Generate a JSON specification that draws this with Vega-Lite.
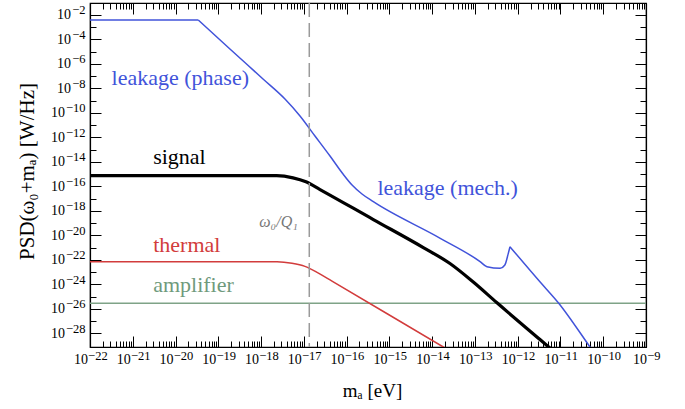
{
  "$schema": "https://vega.github.io/schema/vega-lite/v6.json",
  "width": 556,
  "height": 344,
  "autosize": {"type": "none"},
  "padding": {"left": 90, "top": 3, "right": 39, "bottom": 62},
  "background": "white",
  "config": {
    "view": {"stroke": "black", "strokeWidth": 1.2},
    "font": "Liberation Serif",
    "text": {"font": "Liberation Serif"},
    "axis": {"grid": false, "domainColor": "black", "domainWidth": 1.2, "tickColor": "black", "tickWidth": 1, "labelColor": "black", "labelFont": "Liberation Serif", "labelFontSize": 14, "titleColor": "black", "titleFont": "Liberation Serif", "titleFontWeight": "normal", "titleFontSize": 20, "labelOverlap": false, "labelFlush": false}
  },
  "datasets": {
    "curves": [
      {"series": "amplifier", "segment": 0, "x": 1e-22, "y": 2.82e-26},
      {"series": "amplifier", "segment": 0, "x": 1e-9, "y": 2.82e-26},
      {"series": "thermal", "segment": 0, "x": 1e-22, "y": 7.0e-23},
      {"series": "thermal", "segment": 0, "x": 2.36e-18, "y": 7.0e-23},
      {"series": "thermal", "segment": 0, "x": 5.28e-18, "y": 5.27e-23},
      {"series": "thermal", "segment": 0, "x": 1.06e-17, "y": 2.94e-23},
      {"series": "thermal", "segment": 0, "x": 2.14e-17, "y": 8.67e-24},
      {"series": "thermal", "segment": 0, "x": 4.55e-17, "y": 1.85e-24},
      {"series": "thermal", "segment": 0, "x": 1.82e-14, "y": 7.59e-30},
      {"series": "thermal", "segment": 0, "x": 3.16e-14, "y": 2.45e-30},
      {"series": "leakage", "segment": 0, "x": 1e-22, "y": 3.9e-3},
      {"series": "leakage", "segment": 0, "x": 3.4e-20, "y": 3.9e-3},
      {"series": "leakage", "segment": 1, "x": 3.4e-20, "y": 3.9e-3},
      {"series": "leakage", "segment": 1, "x": 1.87e-19, "y": 1.67e-5},
      {"series": "leakage", "segment": 1, "x": 1.11e-18, "y": 5.9e-8},
      {"series": "leakage", "segment": 1, "x": 3.62e-18, "y": 1.37e-9},
      {"series": "leakage", "segment": 1, "x": 8.13e-18, "y": 5.6e-11},
      {"series": "leakage", "segment": 1, "x": 1.82e-17, "y": 1.3e-12},
      {"series": "leakage", "segment": 1, "x": 4.09e-17, "y": 3.0e-14},
      {"series": "leakage", "segment": 1, "x": 8.24e-17, "y": 1.02e-15},
      {"series": "leakage", "segment": 1, "x": 1.34e-16, "y": 1.29e-16},
      {"series": "leakage", "segment": 1, "x": 2.29e-16, "y": 2.38e-17},
      {"series": "leakage", "segment": 1, "x": 4.21e-16, "y": 5.6e-18},
      {"series": "leakage", "segment": 1, "x": 1.51e-14, "y": 6.0e-21},
      {"series": "leakage", "segment": 1, "x": 1.32e-13, "y": 7.2e-23},
      {"series": "leakage", "segment": 1, "x": 1.91e-13, "y": 2.75e-23},
      {"series": "leakage", "segment": 1, "x": 3.89e-13, "y": 2.04e-23},
      {"series": "leakage", "segment": 1, "x": 5.01e-13, "y": 3.8e-23},
      {"series": "leakage", "segment": 1, "x": 6.03e-13, "y": 3.39e-22},
      {"series": "leakage", "segment": 1, "x": 6.61e-13, "y": 1.17e-21},
      {"series": "leakage", "segment": 2, "x": 6.61e-13, "y": 1.17e-21},
      {"series": "leakage", "segment": 2, "x": 3.31e-12, "y": 1.62e-24},
      {"series": "leakage", "segment": 2, "x": 8.91e-12, "y": 3.16e-26},
      {"series": "leakage", "segment": 2, "x": 4.9e-11, "y": 7.6e-30},
      {"series": "leakage", "segment": 2, "x": 7.9e-11, "y": 7e-31},
      {"series": "signal", "segment": 0, "x": 1e-22, "y": 7.43e-16},
      {"series": "signal", "segment": 0, "x": 2.32e-18, "y": 7.43e-16},
      {"series": "signal", "segment": 0, "x": 5.57e-18, "y": 5.0e-16},
      {"series": "signal", "segment": 0, "x": 1.12e-17, "y": 2.36e-16},
      {"series": "signal", "segment": 0, "x": 2.39e-17, "y": 5.53e-17},
      {"series": "signal", "segment": 0, "x": 4.21e-16, "y": 1.96e-19},
      {"series": "signal", "segment": 0, "x": 6.21e-15, "y": 1.01e-21},
      {"series": "signal", "segment": 0, "x": 2.61e-14, "y": 4.99e-23},
      {"series": "signal", "segment": 0, "x": 9.16e-14, "y": 1.53e-24},
      {"series": "signal", "segment": 0, "x": 3.23e-13, "y": 3.24e-26},
      {"series": "signal", "segment": 0, "x": 3.32e-12, "y": 3.08e-29},
      {"series": "signal", "segment": 0, "x": 9.75e-12, "y": 1.24e-30}
    ],
    "labels": [
      {"series": "leakage", "text": "leakage (phase)", "x": 3.2e-22, "y": 1.9e-8},
      {"series": "signal", "text": "signal", "x": 3.0e-21, "y": 6.8e-15},
      {"series": "leakage", "text": "leakage (mech.)", "x": 5.25e-16, "y": 1.95e-17},
      {"series": "thermal", "text": "thermal", "x": 3.0e-21, "y": 4.6e-22},
      {"series": "amplifier", "text": "amplifier", "x": 3.0e-21, "y": 2.3e-25}
    ],
    "marker": [{"x": 1.34e-17, "text": "ω₀/Q₁", "tx": 7.2e-18, "y": 5.0e-20}]
  },
  "layer": [
    {
      "data": {"name": "curves"},
      "transform": [{"filter": "datum.series == 'amplifier'"}],
      "mark": {"type": "line", "color": "#7fa387", "strokeWidth": 1.6, "clip": true},
      "encoding": {
        "x": {"field": "x", "type": "quantitative", "scale": {"type": "log", "domain": [1e-22, 1e-9], "nice": false},
          "axis": {"orient": "bottom", "values": [1e-22, 1e-21, 1e-20, 1e-19, 1e-18, 1e-17, 1e-16, 1e-15, 1e-14, 1e-13, 1e-12, 1e-11, 1e-10, 1e-9], "ticks": false, "domain": false, "labelPadding": 5, "labelExpr": "'10'", "labelAlign": "center",
            "labelOffset": {"condition": {"test": "datum.value > 5e-10", "value": -6.5}, "value": -9.5},
            "title": "mₐ  [eV]", "titleFontSize": 19, "titleX": 282, "titleY": 43, "titleBaseline": "middle", "titleAlign": "center"}},
        "y": {"field": "y", "type": "quantitative", "scale": {"type": "log", "domain": [7.6e-30, 0.095], "nice": false},
          "axis": {"orient": "left", "values": [1e-28, 1e-26, 1e-24, 1e-22, 1e-20, 1e-18, 1e-16, 1e-14, 1e-12, 1e-10, 1e-8, 1e-6, 1e-4, 1e-2], "ticks": false, "domain": false, "labelExpr": "'10'", "labelAlign": "right", "labelBaseline": "middle",
            "labelPadding": {"condition": {"test": "datum.value > 5e-10", "value": 19.5}, "value": 25.5},
            "title": "PSD(ω₀+mₐ)  [W/Hz]", "titleFontSize": 21, "titleX": -63, "titleY": 168, "titleBaseline": "middle", "titleAlign": "center", "titleAngle": -90}}
      }
    },
    {
      "data": {"name": "curves"},
      "transform": [{"filter": "datum.series == 'thermal'"}],
      "mark": {"type": "line", "color": "#d23c3c", "strokeWidth": 1.5, "clip": true, "interpolate": "monotone"},
      "encoding": {
        "x": {"field": "x", "type": "quantitative", "scale": {"type": "log", "domain": [1e-22, 1e-9], "nice": false},
          "axis": {"orient": "bottom", "labels": false, "title": null, "tickSize": -6, "domain": false,
            "values": [2e-22,3e-22,4e-22,5e-22,6e-22,7e-22,8e-22,9e-22,2e-21,3e-21,4e-21,5e-21,6e-21,7e-21,8e-21,9e-21,2e-20,3e-20,4e-20,5e-20,6e-20,7e-20,8e-20,9e-20,2e-19,3e-19,4e-19,5e-19,6e-19,7e-19,8e-19,9e-19,2e-18,3e-18,4e-18,5e-18,6e-18,7e-18,8e-18,9e-18,2e-17,3e-17,4e-17,5e-17,6e-17,7e-17,8e-17,9e-17,2e-16,3e-16,4e-16,5e-16,6e-16,7e-16,8e-16,9e-16,2e-15,3e-15,4e-15,5e-15,6e-15,7e-15,8e-15,9e-15,2e-14,3e-14,4e-14,5e-14,6e-14,7e-14,8e-14,9e-14,2e-13,3e-13,4e-13,5e-13,6e-13,7e-13,8e-13,9e-13,2e-12,3e-12,4e-12,5e-12,6e-12,7e-12,8e-12,9e-12,2e-11,3e-11,4e-11,5e-11,6e-11,7e-11,8e-11,9e-11,2e-10,3e-10,4e-10,5e-10,6e-10,7e-10,8e-10,9e-10]}},
        "y": {"field": "y", "type": "quantitative", "scale": {"type": "log", "domain": [7.6e-30, 0.095], "nice": false},
          "axis": {"orient": "left", "labels": false, "title": null, "tickSize": -6, "domain": false,
            "values": [1e-27, 1e-25, 1e-23, 1e-21, 1e-19, 1e-17, 1e-15, 1e-13, 1e-11, 1e-9, 1e-7, 1e-5, 1e-3]}}
      }
    },
    {
      "data": {"name": "curves"},
      "transform": [{"filter": "datum.series == 'leakage'"}],
      "mark": {"type": "line", "color": "#4153da", "strokeWidth": 1.5, "clip": true, "interpolate": "monotone"},
      "encoding": {
        "detail": {"field": "segment", "type": "nominal"},
        "x": {"field": "x", "type": "quantitative", "scale": {"type": "log", "domain": [1e-22, 1e-9], "nice": false},
          "axis": {"orient": "top", "labels": false, "title": null, "tickSize": -11,
            "values": [1e-22, 1e-21, 1e-20, 1e-19, 1e-18, 1e-17, 1e-16, 1e-15, 1e-14, 1e-13, 1e-12, 1e-11, 1e-10, 1e-9]}},
        "y": {"field": "y", "type": "quantitative", "scale": {"type": "log", "domain": [7.6e-30, 0.095], "nice": false},
          "axis": {"orient": "right", "labels": false, "title": null, "tickSize": -11,
            "values": [1e-28, 1e-26, 1e-24, 1e-22, 1e-20, 1e-18, 1e-16, 1e-14, 1e-12, 1e-10, 1e-8, 1e-6, 1e-4, 1e-2]}}
      }
    },
    {
      "data": {"name": "curves"},
      "transform": [{"filter": "datum.series == 'signal'"}],
      "mark": {"type": "line", "color": "black", "strokeWidth": 3.2, "clip": true, "interpolate": "monotone"},
      "encoding": {
        "x": {"field": "x", "type": "quantitative", "scale": {"type": "log", "domain": [1e-22, 1e-9], "nice": false},
          "axis": {"orient": "top", "labels": false, "title": null, "tickSize": -6, "domain": false,
            "values": [2e-22,3e-22,4e-22,5e-22,6e-22,7e-22,8e-22,9e-22,2e-21,3e-21,4e-21,5e-21,6e-21,7e-21,8e-21,9e-21,2e-20,3e-20,4e-20,5e-20,6e-20,7e-20,8e-20,9e-20,2e-19,3e-19,4e-19,5e-19,6e-19,7e-19,8e-19,9e-19,2e-18,3e-18,4e-18,5e-18,6e-18,7e-18,8e-18,9e-18,2e-17,3e-17,4e-17,5e-17,6e-17,7e-17,8e-17,9e-17,2e-16,3e-16,4e-16,5e-16,6e-16,7e-16,8e-16,9e-16,2e-15,3e-15,4e-15,5e-15,6e-15,7e-15,8e-15,9e-15,2e-14,3e-14,4e-14,5e-14,6e-14,7e-14,8e-14,9e-14,2e-13,3e-13,4e-13,5e-13,6e-13,7e-13,8e-13,9e-13,2e-12,3e-12,4e-12,5e-12,6e-12,7e-12,8e-12,9e-12,2e-11,3e-11,4e-11,5e-11,6e-11,7e-11,8e-11,9e-11,2e-10,3e-10,4e-10,5e-10,6e-10,7e-10,8e-10,9e-10]}},
        "y": {"field": "y", "type": "quantitative", "scale": {"type": "log", "domain": [7.6e-30, 0.095], "nice": false},
          "axis": {"orient": "right", "labels": false, "title": null, "tickSize": -6, "domain": false,
            "values": [1e-27, 1e-25, 1e-23, 1e-21, 1e-19, 1e-17, 1e-15, 1e-13, 1e-11, 1e-9, 1e-7, 1e-5, 1e-3]}}
      }
    },
    {
      "data": {"name": "marker"},
      "mark": {"type": "rule", "color": "#9a9a9a", "strokeWidth": 1.5, "strokeDash": [14, 6]},
      "encoding": {
        "x": {"field": "x", "type": "quantitative", "scale": {"type": "log", "domain": [1e-22, 1e-9], "nice": false},
          "axis": {"orient": "bottom", "values": [1e-22, 1e-21, 1e-20, 1e-19, 1e-18, 1e-17, 1e-16, 1e-15, 1e-14, 1e-13, 1e-12, 1e-11, 1e-10, 1e-9], "ticks": false, "domain": false, "title": null,
            "labelExpr": "'−' + (-round(log(datum.value)/LN10))", "labelFontSize": 12.5, "labelAlign": "center", "labelPadding": 2, "labelOffset": 7.4}}
      }
    },
    {
      "data": {"name": "marker"},
      "mark": {"type": "text", "color": "#777777", "fontSize": 16, "fontStyle": "italic", "align": "right", "baseline": "alphabetic", "font": "Liberation Serif"},
      "encoding": {
        "x": {"field": "tx", "type": "quantitative", "scale": {"type": "log", "domain": [1e-22, 1e-9], "nice": false},
          "axis": {"orient": "bottom", "labels": false, "title": null, "tickSize": -11, "domain": true,
            "values": [1e-22, 1e-21, 1e-20, 1e-19, 1e-18, 1e-17, 1e-16, 1e-15, 1e-14, 1e-13, 1e-12, 1e-11, 1e-10, 1e-9]}},
        "y": {"field": "y", "type": "quantitative", "scale": {"type": "log", "domain": [7.6e-30, 0.095], "nice": false},
          "axis": {"orient": "left", "values": [1e-28, 1e-26, 1e-24, 1e-22, 1e-20, 1e-18, 1e-16, 1e-14, 1e-12, 1e-10, 1e-8, 1e-6, 1e-4, 1e-2], "ticks": false, "domain": false, "title": null,
            "labelExpr": "'−' + (-round(log(datum.value)/LN10))", "labelFontSize": 12.5, "labelAlign": "right", "labelBaseline": "middle", "labelPadding": 5, "labelOffset": -5}},
        "text": {"field": "text"}
      }
    },
    {
      "data": {"name": "labels"},
      "mark": {"type": "text", "fontSize": 22, "align": "left", "baseline": "alphabetic", "font": "Liberation Serif"},
      "encoding": {
        "x": {"field": "x", "type": "quantitative", "scale": {"type": "log", "domain": [1e-22, 1e-9], "nice": false}, "axis": null},
        "y": {"field": "y", "type": "quantitative", "scale": {"type": "log", "domain": [7.6e-30, 0.095], "nice": false},
          "axis": {"orient": "left", "labels": false, "title": null, "tickSize": -11, "domain": true,
            "values": [1e-28, 1e-26, 1e-24, 1e-22, 1e-20, 1e-18, 1e-16, 1e-14, 1e-12, 1e-10, 1e-8, 1e-6, 1e-4, 1e-2]}},
        "text": {"field": "text"},
        "color": {"field": "series", "type": "nominal", "scale": {"domain": ["leakage", "signal", "thermal", "amplifier"], "range": ["#4153da", "black", "#d23c3c", "#6f9a7c"]}, "legend": null}
      }
    }
  ],
  "resolve": {"axis": {"x": "independent", "y": "independent"}}
}
